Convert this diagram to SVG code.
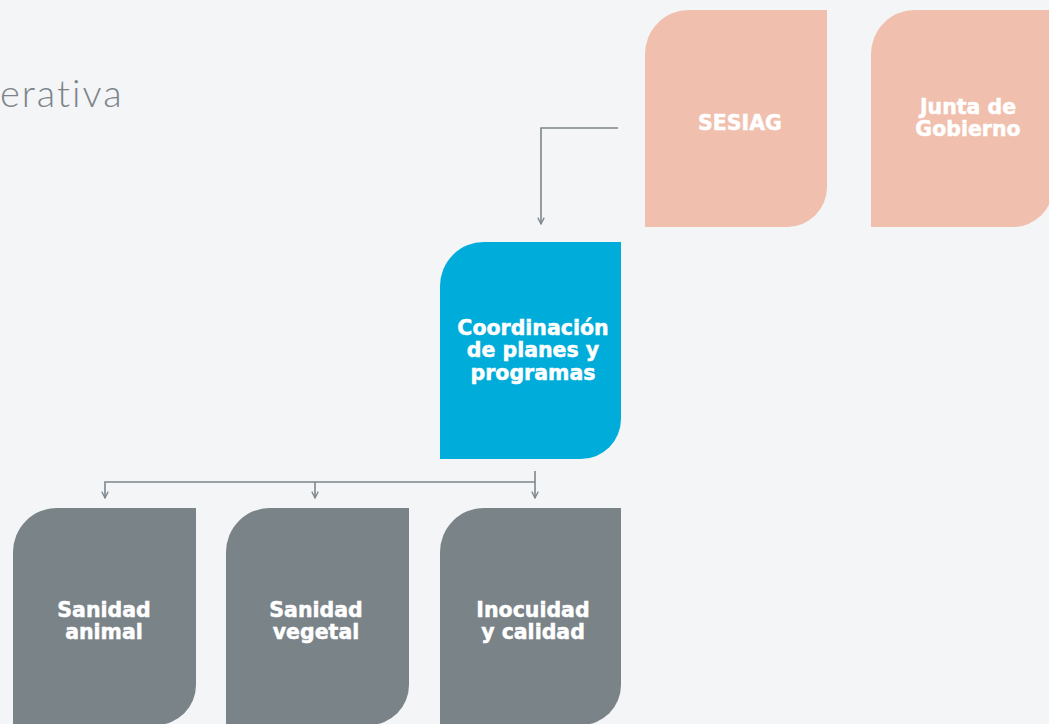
<svg xmlns="http://www.w3.org/2000/svg" width="1049" height="724" viewBox="0 0 1049 724">
<defs>
<style>
.bg{fill:#f3f5f7}
.salmon{fill:#f0bfae}
.blue{fill:#00acd9}
.gray{fill:#7a8388}
.lbl{font-family:"DejaVu Sans","Noto Sans",sans-serif;font-weight:bold;font-size:20.5px;fill:#ffffff;stroke:#ffffff;stroke-width:0.5;text-anchor:middle}
.title{font-family:Lato,"Noto Sans",sans-serif;font-weight:300;font-size:38px;fill:#7c8489;letter-spacing:2px}
.conn{fill:none;stroke:#7e868b;stroke-width:1.6}
</style>
<marker id="arr" viewBox="0 0 10 10" refX="9" refY="5" markerWidth="8" markerHeight="8" orient="auto" markerUnits="userSpaceOnUse">
<path d="M1,1 L9,5 L1,9" fill="none" stroke="#7e868b" stroke-width="1.6"/>
</marker>
</defs>
<rect class="bg" x="0" y="0" width="1049" height="724"/>
<text class="title" x="0" y="107">erativa</text>

<g id="connectors">
<path class="conn" d="M618,128 H541 V224" marker-end="url(#arr)"/>
<path class="conn" d="M535,471 V498" marker-end="url(#arr)"/>
<path class="conn" d="M535,482 H105 V498" marker-end="url(#arr)"/>
<path class="conn" d="M315,482 V498" marker-end="url(#arr)"/>
</g>

<g id="sesiag">
<path class="salmon" d="M689,10 H827 V187 A40,40 0 0 1 787,227 H645 V54 A44,44 0 0 1 689,10 Z"/>
<text class="lbl" x="740" y="130">SESIAG</text>
</g>
<g id="junta">
<path class="salmon" d="M915,10 H1053 V187 A40,40 0 0 1 1013,227 H871 V54 A44,44 0 0 1 915,10 Z"/>
<text class="lbl" x="968" y="114">Junta de</text>
<text class="lbl" x="968" y="136">Gobierno</text>
</g>
<g id="coordinacion">
<path class="blue" d="M484,242 H621 V419 A40,40 0 0 1 581,459 H440 V286 A44,44 0 0 1 484,242 Z"/>
<text class="lbl" x="533" y="335">Coordinación</text>
<text class="lbl" x="533" y="357">de planes y</text>
<text class="lbl" x="533" y="380">programas</text>
</g>
<g id="sanidad-animal">
<path class="gray" d="M57,508 H196 V685 A40,40 0 0 1 156,725 H13 V552 A44,44 0 0 1 57,508 Z"/>
<text class="lbl" x="104" y="617">Sanidad</text>
<text class="lbl" x="104" y="639">animal</text>
</g>
<g id="sanidad-vegetal">
<path class="gray" d="M270,508 H409 V685 A40,40 0 0 1 369,725 H226 V552 A44,44 0 0 1 270,508 Z"/>
<text class="lbl" x="316" y="617">Sanidad</text>
<text class="lbl" x="316" y="639">vegetal</text>
</g>
<g id="inocuidad">
<path class="gray" d="M484,508 H621 V685 A40,40 0 0 1 581,725 H440 V552 A44,44 0 0 1 484,508 Z"/>
<text class="lbl" x="533" y="617">Inocuidad</text>
<text class="lbl" x="533" y="639">y calidad</text>
</g>
</svg>
